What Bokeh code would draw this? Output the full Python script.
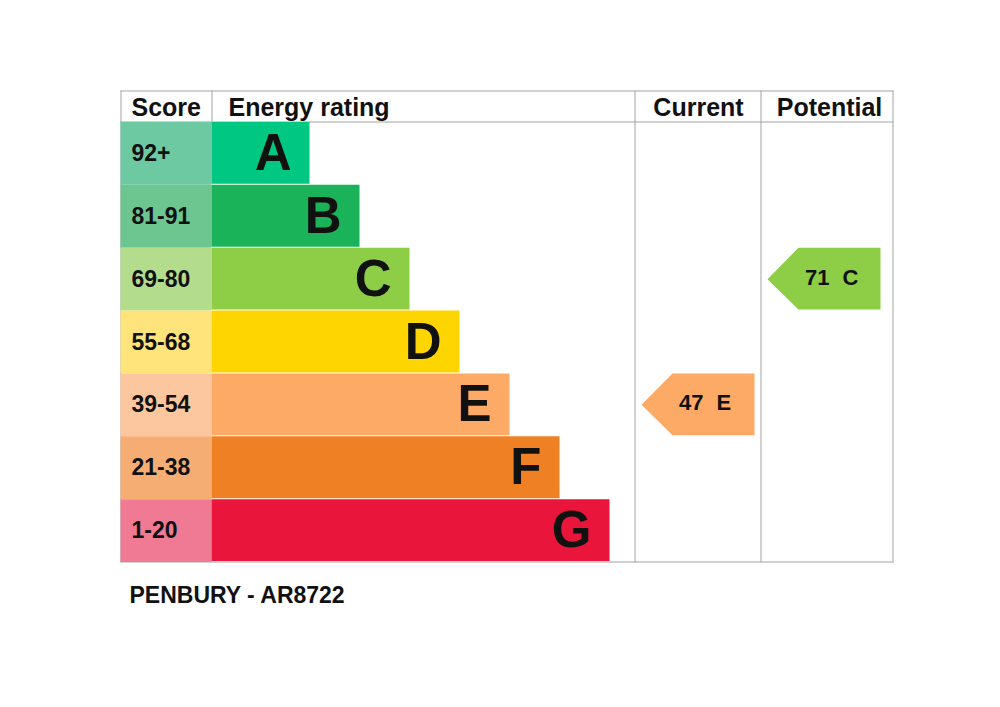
from bokeh.plotting import figure
from bokeh.models import Range1d, ColumnDataSource
from bokeh.core.properties import value
from bokeh.embed import file_html
from bokeh.resources import INLINE

# ---- data ----
ratings = ["A", "B", "C", "D", "E", "F", "G"]
score_ranges = ["92+", "81-91", "69-80", "55-68", "39-54", "21-38", "1-20"]
band_colors = ["#00c781", "#1bb35a", "#8dce46", "#ffd500", "#fcaa65", "#ef8023", "#e9153b"]
score_colors = ["#6cc9a2", "#6dc690", "#b3dd8c", "#fee47a", "#fcc79f", "#f6ad74", "#f07a93"]
headers = ["Score", "Energy rating", "Current", "Potential"]
current_score = 47
current_rating = "E"
potential_score = 71
potential_rating = "C"
title_text = "PENBURY - AR8722"

# ---- layout ----
FONT = value("Liberation Sans")
X0, X_SCORE, X_CUR, X_POT, X1 = 120, 211, 634, 760, 892
Y0, Y_HEAD, Y1 = 90, 121, 561
N = len(ratings)
ROW_H = (Y1 - Y_HEAD) / N
BAR_FIRST = 309
BAR_STEP = 50
GRID = "#a3a3a3"
INK = "#111111"

p = figure(width=984, height=690, output_backend="svg", toolbar_location=None,
           x_range=Range1d(0, 984), y_range=Range1d(690, 0),
           min_border=0, outline_line_color=None)
p.axis.visible = False
p.grid.visible = False
p.background_fill_color = "white"
p.border_fill_color = "white"

# grid lines
h = 0.5
seg = dict(
    x0=[X0, X0, X0, X0 + h, X_SCORE + h, X_CUR + h, X_POT + h, X1 + h],
    y0=[Y0 + h, Y_HEAD + h, Y1 + h, Y0, Y0, Y0, Y0, Y0],
    x1=[X1 + 1, X1 + 1, X1 + 1, X0 + h, X_SCORE + h, X_CUR + h, X_POT + h, X1 + h],
    y1=[Y0 + h, Y_HEAD + h, Y1 + h, Y1 + 1, Y_HEAD, Y1 + 1, Y1 + 1, Y1 + 1],
)
p.segment(source=ColumnDataSource(seg), x0="x0", y0="y0", x1="x1", y1="y1",
          line_color=GRID, line_width=1)

tops = [Y_HEAD + 0.5 + i * ROW_H for i in range(N)]
bots = [Y_HEAD + 0.5 + (i + 1) * ROW_H for i in range(N)]
mids = [(t + b) / 2 for t, b in zip(tops, bots)]
bar_right = [BAR_FIRST + BAR_STEP * i for i in range(N)]

# score cells
p.quad(left=[X0] * N, right=[X_SCORE] * N, top=tops, bottom=bots,
       fill_color=score_colors, line_color=None)
# bars
p.quad(left=[X_SCORE] * N, right=bar_right, top=tops, bottom=[b - 1 for b in bots],
       fill_color=band_colors, line_color=None)

# score labels
p.text(x=[X0 + 11] * N, y=[m - 1 for m in mids], text=score_ranges,
       text_font=FONT, text_font_style="bold", text_font_size="23px",
       text_align="left", text_baseline="middle", text_color=INK)
# rating letters
p.text(x=[r - 18 for r in bar_right], y=[m - 1 for m in mids], text=ratings,
       text_font=FONT, text_font_style="bold", text_font_size="51px",
       text_align="right", text_baseline="middle", text_color=INK)

# headers
hy = (Y0 + Y_HEAD) / 2 + 1
p.text(x=[X0 + 11, X_SCORE + 17], y=[hy, hy], text=headers[:2],
       text_font=FONT, text_font_style="bold", text_font_size="25px",
       text_align="left", text_baseline="middle", text_color=INK)
p.text(x=[(X_CUR + X_POT) / 2 + 1, (X_POT + X1) / 2 + 3], y=[hy, hy], text=headers[2:],
       text_font=FONT, text_font_style="bold", text_font_size="25px",
       text_align="center", text_baseline="middle", text_color=INK)

# arrows
def arrow(col_left, score, rating):
    i = ratings.index(rating)
    top, bot, mid = tops[i], bots[i] - 1, mids[i]
    left = col_left + 7
    notch = left + 31
    right = left + 113
    p.patch(x=[left, notch, right, right, notch], y=[mid, top, top, bot, bot],
            fill_color=band_colors[i], line_color=None)
    p.text(x=[left + 62], y=[mid - 2], text=[str(score)],
           text_font=FONT, text_font_style="bold", text_font_size="22px",
           text_align="right", text_baseline="middle", text_color=INK)
    p.text(x=[left + 75], y=[mid - 2], text=[rating],
           text_font=FONT, text_font_style="bold", text_font_size="22px",
           text_align="left", text_baseline="middle", text_color=INK)

arrow(X_CUR, current_score, current_rating)
arrow(X_POT, potential_score, potential_rating)

# footer
p.text(x=[X0 + 9], y=[Y1 + 33], text=[title_text],
       text_font=FONT, text_font_style="bold", text_font_size="23px",
       text_align="left", text_baseline="middle", text_color=INK)

open("out.html", "w").write(file_html(p, INLINE))
